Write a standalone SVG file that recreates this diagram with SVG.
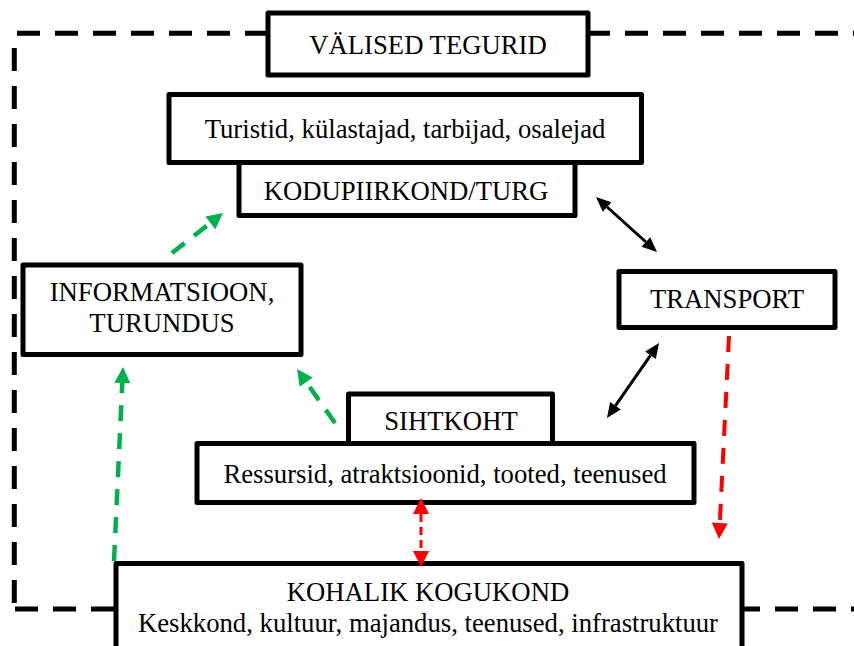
<svg xmlns="http://www.w3.org/2000/svg" width="854" height="646" viewBox="0 0 854 646">
<style>
.box{fill:#fff;stroke:#000;stroke-width:5;stroke-linejoin:round}
.t{font-family:"Liberation Serif","Times New Roman",serif;font-size:26.7px;fill:#000;text-anchor:middle}
.border{stroke:#000;stroke-width:5;stroke-dasharray:23 15;fill:none}
.green{stroke:#00B050;stroke-width:4.5;stroke-dasharray:16 12;fill:none}
.red{stroke:#FF0000;stroke-width:4;stroke-dasharray:16 12;fill:none}
.red2{stroke:#FF0000;stroke-width:3;stroke-dasharray:8 5;fill:none}
.black{stroke:#000;stroke-width:3;fill:none}
</style>
<defs>
<marker id="ag" markerUnits="userSpaceOnUse" markerWidth="17" markerHeight="17" refX="0" refY="8" orient="auto" viewBox="0 0 17 17" overflow="visible">
<path d="M0,0 L16,8 L0,16 z" fill="#00B050"/>
</marker>
<marker id="ar" markerUnits="userSpaceOnUse" markerWidth="17" markerHeight="17" refX="0" refY="8" orient="auto-start-reverse" viewBox="0 0 17 17" overflow="visible">
<path d="M0,0 L16,8 L0,16 z" fill="#FF0000"/>
</marker>
<marker id="ab" markerUnits="userSpaceOnUse" markerWidth="17" markerHeight="17" refX="0" refY="6.5" orient="auto-start-reverse" viewBox="0 0 17 13" overflow="visible">
<path d="M0,0 L15,6.5 L0,13 z" fill="#000"/>
</marker>
</defs>
<rect width="854" height="646" fill="#fff"/>
<g id="border">
<line class="border" x1="17" y1="33.3" x2="268" y2="33.3"/>
<line class="border" x1="587" y1="33.3" x2="854" y2="33.3"/>
<line class="border" x1="14.3" y1="48" x2="14.3" y2="604"/>
<line class="border" x1="15" y1="609" x2="116" y2="609"/>
<line class="border" x1="737" y1="609" x2="854" y2="609"/>
</g>
<g id="valised">
<rect class="box" x="268" y="13" width="320" height="62"/>
<text class="t" x="428" y="54">VÄLISED TEGURID</text>
</g>
<g id="kodupiirkond">
<rect class="box" x="239" y="162.5" width="336" height="53"/>
<text class="t" x="406" y="200">KODUPIIRKOND/TURG</text>
</g>
<g id="turistid">
<rect class="box" x="169" y="94.5" width="472.5" height="68"/>
<text class="t" x="405" y="138">Turistid, külastajad, tarbijad, osalejad</text>
</g>
<g id="informatsioon">
<rect class="box" x="23" y="265" width="278" height="89.5"/>
<text class="t" x="162" y="301">INFORMATSIOON,</text>
<text class="t" x="162" y="332">TURUNDUS</text>
</g>
<g id="transport">
<rect class="box" x="619" y="271.5" width="216" height="56"/>
<text class="t" x="727" y="308">TRANSPORT</text>
</g>
<g id="sihtkoht">
<rect class="box" x="348.5" y="394" width="204" height="49.5"/>
<text class="t" x="451" y="430">SIHTKOHT</text>
</g>
<g id="ressursid">
<rect class="box" x="197" y="443.5" width="497" height="59"/>
<text class="t" x="445" y="483">Ressursid, atraktsioonid, tooted, teenused</text>
</g>
<g id="kohalik">
<rect class="box" x="116" y="563.5" width="626" height="100"/>
<text class="t" x="428" y="601">KOHALIK KOGUKOND</text>
<text class="t" x="428" y="632">Keskkond, kultuur, majandus, teenused, infrastruktuur</text>
</g>
<g id="connectors">
<line class="green" x1="172" y1="253" x2="210.4" y2="222.9" marker-end="url(#ag)"/>
<line class="green" x1="114" y1="561" x2="122.3" y2="383" marker-end="url(#ag)"/>
<line class="green" x1="335" y1="423" x2="306.2" y2="382.1" marker-end="url(#ag)"/>
<line class="black" x1="607.1" y1="207" x2="645.9" y2="242" marker-start="url(#ab)" marker-end="url(#ab)"/>
<line class="black" x1="650.5" y1="355.3" x2="615.5" y2="405.7" marker-start="url(#ab)" marker-end="url(#ab)"/>
<line class="red" x1="729" y1="336" x2="719.8" y2="523" marker-end="url(#ar)"/>
<line class="red2" x1="421" y1="514" x2="421" y2="551" marker-start="url(#ar)" marker-end="url(#ar)"/>
</g>
</svg>
